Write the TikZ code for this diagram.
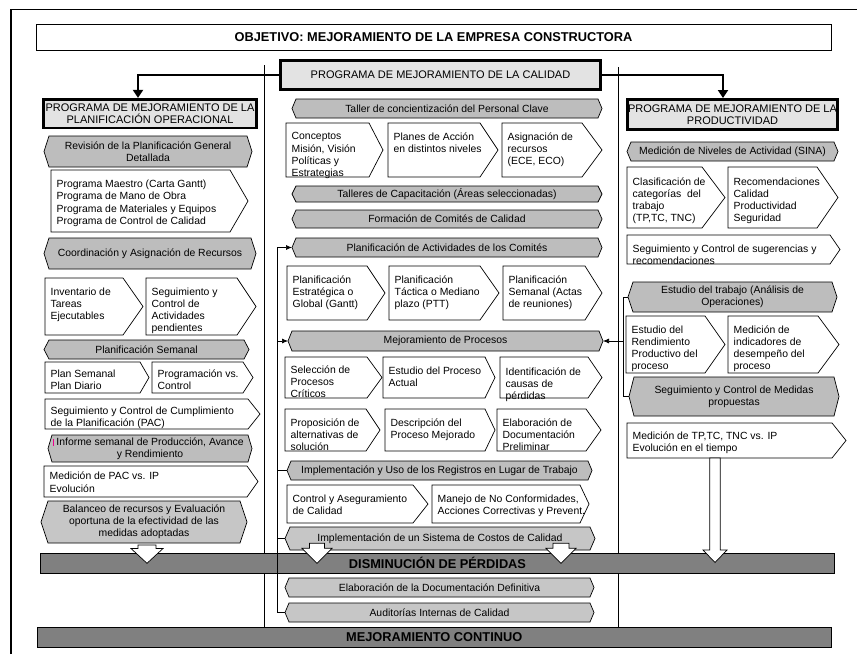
\documentclass[tikz,border=0pt]{standalone}
\usepackage{fontspec}
\setmainfont{Liberation Sans}
\usetikzlibrary{arrows.meta,calc}
\definecolor{hexgray}{HTML}{BDBDBD}
\definecolor{hexlight}{HTML}{C6C6C6}
\definecolor{proggray}{HTML}{E3E3E3}
\definecolor{bargray}{HTML}{808080}
\newcommand\fs{\fontsize{10.4}{12.2}\selectfont}
\tikzset{
  boxline/.style={draw=black, line width=0.7pt, fill=white, line join=miter},
  hexline/.style={draw=black, line width=0.7pt},
  wtext/.style={anchor=north west, inner sep=0pt, align=left, font=\fs},
  gtext/.style={inner sep=0pt, align=center, font=\fs},
  prog/.style={draw=black, line width=2.6pt, fill=proggray, align=center, inner sep=0pt, font=\fontsize{11}{12.4}\selectfont},
  bar/.style={draw=black, line width=0.7pt, fill=bargray, inner sep=0pt, font=\bfseries\fontsize{12.8}{14}\selectfont},
  conn/.style={draw=black, line width=0.7pt},
  smallarrow/.style={conn, -{Latex[length=6pt,width=5pt]}},
  bigarrow/.style={draw=black, line width=2pt, -{Triangle[length=8pt,width=10pt]}},
  divider/.style={draw=black, line width=0.8pt}
}
% white pentagon box: [text y offset]{name}{x1}{y1}{xbody}{xtip}{y2}{text}
\newcommand\wbox[8][9.5]{%
  \draw[boxline] (#3,#4) -- (#5,#4) -- (#6,{(#4+#7)/2}) -- (#5,#7) -- (#3,#7) -- cycle;
  \node[wtext] (#2) at ({#3+5.5},{#4+#1}) {#8};
}
% gray hexagon: [fill]{name}{xL}{xR}{y1}{y2}{depth}{text}
\newcommand\gbox[8][hexgray]{%
  \draw[hexline, fill=#1] (#3,{(#5+#6)/2}) -- ({#3+#7},#5) -- ({#4-#7},#5) -- (#4,{(#5+#6)/2}) -- ({#4-#7},#6) -- ({#3+#7},#6) -- cycle;
  \coordinate (#2-w) at (#3,{(#5+#6)/2});
  \coordinate (#2-e) at (#4,{(#5+#6)/2});
  \node[gtext] (#2) at ({(#3+#4)/2},{(#5+#6)/2}) {#8};
}
% white block arrow: {cx}{ytop}{yhead}{ytip}{shaft half}{head half}
\newcommand\barr[6]{%
  \draw[boxline] ({#1-#5},#2) -- ({#1+#5},#2) -- ({#1+#5},#3) -- ({#1+#6},#3) -- (#1,#4) -- ({#1-#6},#3) -- ({#1-#5},#3) -- cycle;
}
\begin{document}
\begin{tikzpicture}[x=1pt,y=-1pt]
\useasboundingbox[fill=white] (0,0) rectangle (857,654);
% page frame
\draw[line width=1.5pt] (11,654) -- (11,9.3) -- (857,9.3);
% column dividers
\draw[divider] (264,65) -- (264,627);
\draw[divider] (618,67) -- (618,627);
% objective
\node[draw, line width=0.7pt, minimum width=795, minimum height=26, inner sep=0pt,
  font=\bfseries\fontsize{12.8}{14}\selectfont] (obj) at (433.5,37) {OBJETIVO: MEJORAMIENTO DE LA EMPRESA CONSTRUCTORA};
% programs
\node[prog, minimum width=320.4, minimum height=29.4] (pcal) at (440.5,75) {PROGRAMA DE MEJORAMIENTO DE LA CALIDAD};
\node[prog, minimum width=213.4, minimum height=28.6] (pplan) at (150,113.5) {PROGRAMA DE MEJORAMIENTO DE LA\\PLANIFICACIÓN OPERACIONAL};
\node[prog, minimum width=210.4, minimum height=30.4] (pprod) at (732.5,114.5) {PROGRAMA DE MEJORAMIENTO DE LA\\PRODUCTIVIDAD};
\draw[bigarrow] (pcal.west) -| ([xshift=-12pt]pplan.north);
\draw[bigarrow] (pcal.east) -| ([xshift=-9.5pt]pprod.north);

% ---------- left column ----------
\gbox{revp}{44}{252}{136}{167}{5}{Revisión de la Planificación General\\Detallada}
\wbox[10]{pm}{51}{170}{230}{248}{232}{Programa Maestro (Carta Gantt)\\Programa de Mano de Obra\\Programa de Materiales y Equipos\\Programa de Control de Calidad}
\gbox{coord}{44}{256}{238}{269}{5}{Coordinación y Asignación de Recursos}
\wbox{inv}{45}{278}{123}{143}{335}{Inventario de\\Tareas\\Ejecutables}
\wbox{segact}{146}{278}{237}{256}{335}{Seguimiento y\\Control de\\Actividades\\pendientes}
\gbox{psem}{44}{249}{340}{359}{5}{Planificación Semanal}
\wbox[7.5]{plan}{45}{362}{140}{149}{393}{Plan Semanal\\Plan Diario}
\wbox[7.5]{progc}{152}{362}{243}{253}{393}{Programación vs.\\Control}
\wbox[8]{cum}{45}{399}{248}{260}{429}{Seguimiento y Control de Cumplimiento\\de la Planificación (PAC)}
\gbox{inf}{48}{252}{435}{462}{4}{Informe semanal de Producción, Avance\\y Rendimiento}
\draw[magenta, line width=1pt] (53.5,438.5) -- (53.5,445.5);
\wbox[6]{pac}{44}{466}{247}{258}{497}{Medición de PAC vs. IP\\Evolución}
\gbox[hexlight]{bal}{41}{247}{501}{543}{7}{Balanceo de recursos y Evaluación\\oportuna de la efectividad de las\\medidas adoptadas}

% ---------- middle column ----------
\gbox{taller}{292}{602}{99}{118}{4}{Taller de concientización del Personal Clave}
\wbox{conc}{286}{123}{369}{383}{177}{Conceptos\\Misión, Visión\\Políticas y\\Estrategias}
\wbox{planes}{388}{123}{480}{498}{177}{Planes de Acción\\en distintos niveles}
\wbox{asig}{502}{123}{582}{602}{177}{Asignación de\\recursos\\(ECE, ECO)}
\gbox{tcap}{292}{602}{186}{202}{4}{Talleres de Capacitación (Áreas seleccionadas)}
\gbox{form}{292}{602}{210}{228}{4}{Formación de Comités de Calidad}
\gbox{pact}{292}{602}{238}{257}{4}{Planificación de Actividades de los Comités}
\wbox{pe}{287}{266}{367}{385}{320}{Planificación\\Estratégica o\\Global (Gantt)}
\wbox{pt}{389}{266}{480}{499}{320}{Planificación\\Táctica o Mediano\\plazo (PTT)}
\wbox{ps}{503}{266}{585}{602}{320}{Planificación\\Semanal (Actas\\de reuniones)}
\gbox{mejp}{288}{603}{331}{351}{4}{Mejoramiento de Procesos}
\wbox[8.5]{sel}{285}{357}{367}{382}{398}{Selección de\\Procesos\\Críticos}
\wbox{estp}{383}{357}{485}{495}{398}{Estudio del Proceso\\Actual}
\wbox[10.5]{ident}{500}{357}{588}{602}{398}{Identificación de\\causas de\\pérdidas}
\wbox{prop}{285}{409}{366}{380}{451}{Proposición de\\alternativas de\\solución}
\wbox{desc}{385}{409}{485}{495}{451}{Descripción del\\Proceso Mejorado}
\wbox{elabp}{497}{409}{586}{601}{451}{Elaboración de\\Documentación\\Preliminar}
\gbox{impu}{287}{592}{461}{480}{4}{Implementación y Uso de los Registros en Lugar de Trabajo}
\wbox{ctrl}{287}{485}{413}{428}{523}{Control y Aseguramiento\\de Calidad}
\wbox{manejo}{432}{485}{580}{589}{523}{Manejo de No Conformidades,\\Acciones Correctivas y Prevent.}
\gbox[hexlight]{cost}{285}{595}{527}{550}{5}{Implementación de un Sistema de Costos de Calidad}
\gbox[hexlight]{elab}{285}{594}{578}{597}{4}{Elaboración de la Documentación Definitiva}
\gbox[hexlight]{aud}{285}{594}{603}{622}{4}{Auditorías Internas de Calidad}

% ---------- right column ----------
\gbox{sina}{627}{838}{142}{161}{4}{Medición de Niveles de Actividad (SINA)}
\wbox[10.5]{clas}{627}{167}{702}{725}{228}{Clasificación de\\categorías\ \ del\\trabajo\\(TP,TC, TNC)}
\wbox[10.5]{recom}{728}{167}{817}{838}{228}{Recomendaciones\\Calidad\\Productividad\\Seguridad}
\wbox[10]{sug}{627}{235}{830}{840}{264}{Seguimiento y Control de sugerencias y\\recomendaciones}
\gbox{estt}{628}{837}{282}{312}{5}{Estudio del trabajo (Análisis de\\Operaciones)}
\wbox{rend}{626}{316}{705}{725}{373}{Estudio del\\Rendimiento\\Productivo del\\proceso}
\wbox{medind}{728}{316}{818}{839}{373}{Medición de\\indicadores de\\desempeño del\\proceso}
\gbox{segm}{629}{839}{377}{416}{5}{Seguimiento y Control de Medidas\\propuestas}
\wbox[8.3]{medtp}{627}{423}{832}{846}{458}{Medición de TP,TC, TNC vs. IP\\Evolución en el tiempo}

% ---------- DISMINUCION bar ----------
\node[bar, minimum width=794.3, minimum height=19.6, anchor=north west] (dism) at (40,553) {DISMINUCIÓN DE PÉRDIDAS};

% ---------- bracket connectors ----------
\coordinate (mb) at (277,612.5);
\draw[conn] (aud-w) -- (mb) -- (mb |- pact-w);
\draw[smallarrow] (mb |- pact-w) -- (pact-w);
\draw[smallarrow] (mb |- mejp-w) -- (mejp-w);
\draw[conn] (mb |- impu-w) -- (impu-w);
\draw[conn] (mb |- cost-w) -- (cost-w);
\coordinate (rb) at (623,300);
\draw[conn] (estt-w) -- (estt-w -| rb) -- (segm-w -| rb) -- (segm-w);
\draw[smallarrow] (mejp-e -| rb) -- (mejp-e);

% ---------- block arrows ----------
\barr{147}{545}{548.5}{563.3}{9}{16}
\barr{317}{543.3}{548.3}{563.3}{7.5}{15}
\barr{561}{543.3}{548.3}{563.3}{8}{15}
\barr{715}{458}{550}{562.5}{5.3}{12}

% ---------- MEJORAMIENTO CONTINUO ----------
\node[bar, minimum width=794.3, minimum height=20, anchor=north west] (mc) at (36.7,626.7) {MEJORAMIENTO CONTINUO};
\end{tikzpicture}
\end{document}
